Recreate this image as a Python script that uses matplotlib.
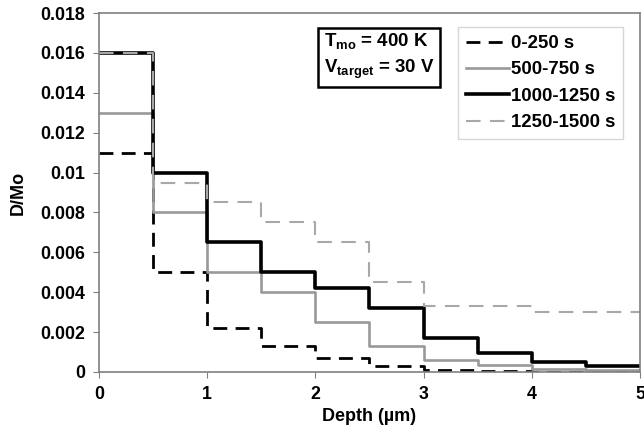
import matplotlib
matplotlib.use('Agg')
import matplotlib.pyplot as plt
from matplotlib.ticker import FuncFormatter

# depth bin edges (um) and D/Mo per bin
depth_edges = [0, 0.5, 1, 1.5, 2, 2.5, 3, 3.5, 4, 4.5, 5]
d_0_250 = [0.011, 0.005, 0.0022, 0.0013, 0.0007, 0.0003, 0.0001, 0.00005, 0.0, 0.0]
d_500_750 = [0.013, 0.008, 0.005, 0.004, 0.0025, 0.0013, 0.0006, 0.00035, 0.00015, 0.0001]
d_1000_1250 = [0.016, 0.010, 0.0065, 0.005, 0.0042, 0.0032, 0.0017, 0.00095, 0.00052, 0.00032]
d_1250_1500 = [0.016, 0.0095, 0.0085, 0.0075, 0.0065, 0.0045, 0.0033, 0.0033, 0.003, 0.003]
labels = ['0-250 s', '500-750 s', '1000-1250 s', '1250-1500 s']
y_ticks = [0, 0.002, 0.004, 0.006, 0.008, 0.01, 0.012, 0.014, 0.016, 0.018]

plt.rcParams['font.family'] = ['Liberation Sans', 'DejaVu Sans']
plt.rcParams['font.weight'] = 'bold'
plt.rcParams['mathtext.fontset'] = 'custom'
plt.rcParams['mathtext.rm'] = 'Liberation Sans:bold'
plt.rcParams['mathtext.it'] = 'Liberation Sans:bold'
plt.rcParams['mathtext.bf'] = 'Liberation Sans:bold'

fig = plt.figure(figsize=(6.44, 4.38), dpi=100)
ax = fig.add_axes([0.1537, 0.1507, 0.8401, 0.8196])

def steps(vals):
    return vals + [vals[-1]]

ax.step(depth_edges, steps(d_0_250), where='post', color='black', lw=2.0,
        dashes=(5, 3), label=labels[0])
ax.step(depth_edges, steps(d_500_750), where='post', color='#999999', lw=1.9,
        label=labels[1])
ax.step(depth_edges, steps(d_1000_1250), where='post', color='black', lw=2.6,
        label=labels[2])
ax.step(depth_edges, steps(d_1250_1500), where='post', color='#a8a8a8', lw=1.5,
        dashes=(7, 4.5), label=labels[3])

ax.set_xlim(0, 5)
ax.set_ylim(0, 0.018)
ax.set_xticks(range(6))
ax.set_yticks(y_ticks)
ax.yaxis.set_major_formatter(FuncFormatter(lambda v, p: '%g' % v))
ax.tick_params(labelsize=12.8, length=4, color='#808080', pad=6)
for s in ax.spines.values():
    s.set_color('#808080')
    s.set_linewidth(1.2)

ax.set_xlabel('Depth (\u00b5m)', fontsize=13, fontweight='bold', labelpad=4)
ax.set_ylabel('D/Mo', fontsize=13, fontweight='bold', labelpad=10)

leg = ax.legend(loc='upper left', bbox_to_anchor=(0.663, 0.962), fontsize=13.4,
                handlelength=2.3, handletextpad=0.1, labelspacing=0.5,
                fancybox=False, borderpad=0.45, borderaxespad=0)
leg.get_frame().set_edgecolor('#cccccc')
leg.get_frame().set_linewidth(1)

ax.text(0.416, 0.951, 'T$_{\\rm mo}$ = 400 K\nV$_{\\rm target}$ = 30 V',
        transform=ax.transAxes, fontsize=13.4, fontweight='bold', va='top',
        linespacing=1.5,
        bbox=dict(boxstyle='square,pad=0.3', fc='white', ec='black', lw=1.8))

plt.savefig('out.png', dpi=100)
